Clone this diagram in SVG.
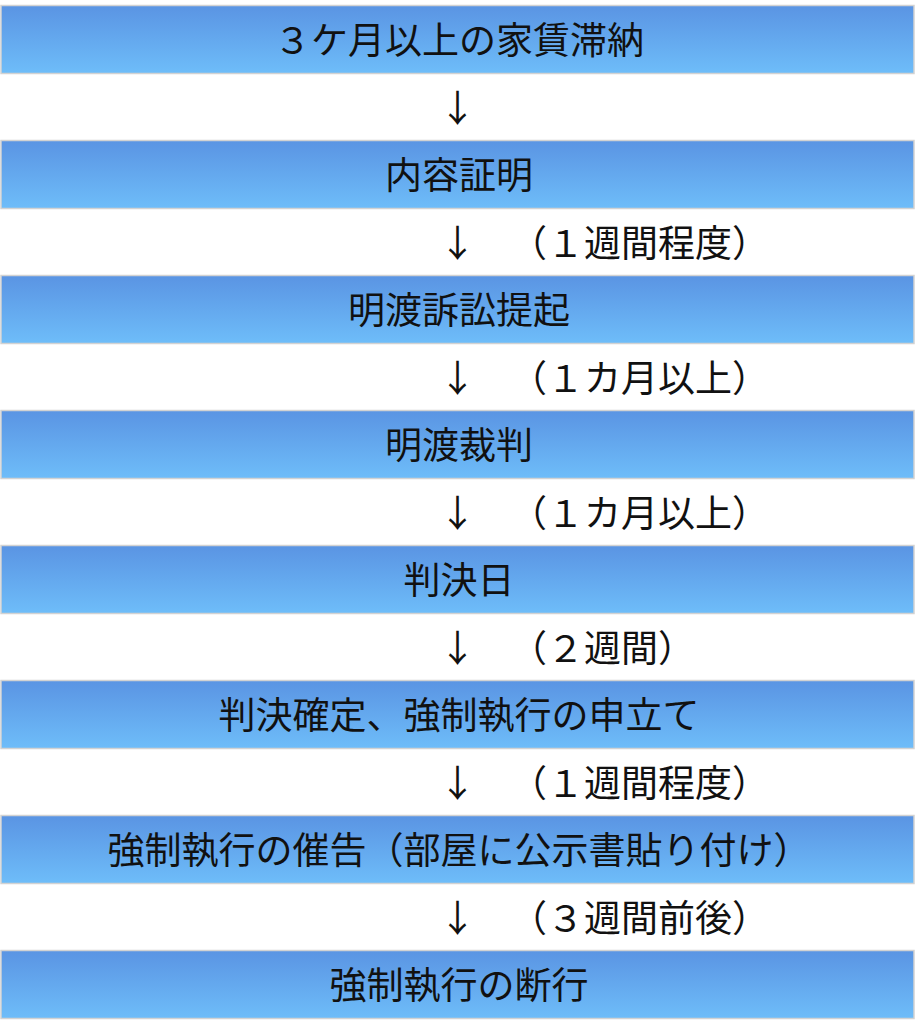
<svg xmlns="http://www.w3.org/2000/svg" width="915" height="1024" viewBox="0 0 915 1024">
<defs>
<linearGradient id="g" x1="0" y1="0" x2="0" y2="1">
<stop offset="0" stop-color="#5a94e3"/>
<stop offset="1" stop-color="#6ebdf9"/>
</linearGradient>
<style>
.box{fill:url(#g);stroke:#d2d2d2;stroke-width:1.5}
.t{font-family:"Noto Sans CJK JP","Noto Sans",sans-serif;font-size:37px;fill:#111}
.m{text-anchor:middle}
</style>
</defs>
<rect width="915" height="1024" fill="#fff"/>
<g id="n1"><rect class="box" x="1" y="5.5" width="913" height="68"/><text class="t m" x="459" y="53.5">３ケ月以上の家賃滞納</text></g>
<g id="n2"><rect class="box" x="1" y="140.5" width="913" height="68"/><text class="t m" x="459" y="188.5">内容証明</text></g>
<g id="n3"><rect class="box" x="1" y="275.5" width="913" height="68"/><text class="t m" x="459" y="323.5">明渡訴訟提起</text></g>
<g id="n4"><rect class="box" x="1" y="410.5" width="913" height="68"/><text class="t m" x="459" y="458.5">明渡裁判</text></g>
<g id="n5"><rect class="box" x="1" y="545.5" width="913" height="68"/><text class="t m" x="459" y="593.5">判決日</text></g>
<g id="n6"><rect class="box" x="1" y="680.5" width="913" height="68"/><text class="t m" x="459" y="728.5">判決確定、強制執行の申立て</text></g>
<g id="n7"><rect class="box" x="1" y="815.5" width="913" height="68"/><text class="t m" x="459" y="863.5">強制執行の催告（部屋に公示書貼り付け）</text></g>
<g id="n8"><rect class="box" x="1" y="950.5" width="913" height="68"/><text class="t m" x="459" y="998.5">強制執行の断行</text></g>
<g id="connectors">
<text class="t m" x="457.5" y="121.5">↓</text>
<text class="t m" x="457.5" y="256.5">↓</text><text class="t" x="510" y="256.5">（１週間程度）</text>
<text class="t m" x="457.5" y="391.5">↓</text><text class="t" x="510" y="391.5">（１カ月以上）</text>
<text class="t m" x="457.5" y="526.5">↓</text><text class="t" x="510" y="526.5">（１カ月以上）</text>
<text class="t m" x="457.5" y="661.5">↓</text><text class="t" x="510" y="661.5">（２週間）</text>
<text class="t m" x="457.5" y="796.5">↓</text><text class="t" x="510" y="796.5">（１週間程度）</text>
<text class="t m" x="457.5" y="931.5">↓</text><text class="t" x="510" y="931.5">（３週間前後）</text>
</g>
</svg>
